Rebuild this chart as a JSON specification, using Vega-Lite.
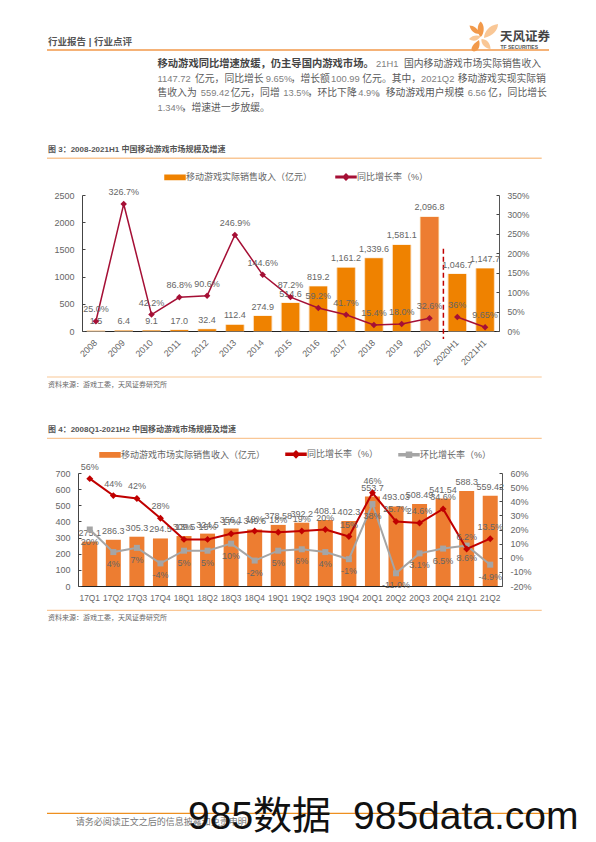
{
"$schema":"https://vega.github.io/schema/vega-lite/v6.json",
"padding":0,
"autosize":{"type":"pad"},
"background":"white",
"spacing":0,
"bounds":"flush",
"resolve":{"scale":{"color":"independent","shape":"independent"},"legend":{"color":"independent","shape":"independent"}},
"config":{"view":{"stroke":null},"concat":{"spacing":0},"font":"Liberation Sans, Noto Sans CJK SC","text":{"font":"Liberation Sans, Noto Sans CJK SC"},"axis":{"grid":false,"labelFont":"Liberation Sans, Noto Sans CJK SC"}},
"datasets":{
"head":[
{"group":"rule","tone":"strong","x":47,"x2":549,"y":50},
{"group":"rule","tone":"pale","x":47,"x2":541.7,"y":158.3},
{"group":"top","x":48,"y":41.7,"text":"行业报告 | 行业点评"},
{"group":"lead","x":157.5,"y":64,"text":"移动游戏同比增速放缓，仍主导国内游戏市场。"},
{"group":"latin","x":376,"y":64,"text":"21H1"},
{"group":"body","x":404,"y":64,"text":"国内移动游戏市场实际销售收入"},
{"group":"latin","x":157.5,"y":78.7,"text":"1147.72"},
{"group":"body","x":195,"y":78.7,"text":"亿元，同比增长"},
{"group":"latin","x":265.7,"y":78.7,"text":"9.65%"},
{"group":"body","x":290.7,"y":78.7,"text":"，增长额"},
{"group":"latin","x":331,"y":78.7,"text":"100.99"},
{"group":"body","x":362.3,"y":78.7,"text":"亿元。其中，"},
{"group":"latin","x":421,"y":78.7,"text":"2021Q2"},
{"group":"body","x":457.7,"y":78.7,"text":"移动游戏实现实际销"},
{"group":"body","x":157.5,"y":93,"text":"售收入为"},
{"group":"latin","x":200.7,"y":93,"text":"559.42"},
{"group":"body","x":230.7,"y":93,"text":"亿元，同增"},
{"group":"latin","x":283.3,"y":93,"text":"13.5%"},
{"group":"body","x":307.7,"y":93,"text":"，环比下降"},
{"group":"latin","x":358.3,"y":93,"text":"4.9%"},
{"group":"body","x":376,"y":93,"text":"。移动游戏用户规模"},
{"group":"latin","x":467.7,"y":93,"text":"6.56"},
{"group":"body","x":488,"y":93,"text":"亿，同比增长"},
{"group":"latin","x":157.5,"y":107.5,"text":"1.34%"},
{"group":"body","x":181.7,"y":107.5,"text":"，增速进一步放缓。"},
{"group":"caption","x":48,"y":150.3,"text":"图 3：2008-2021H1 中国移动游戏市场规模及增速"},
{"group":"brand","x":500,"y":36.5,"text":"天风证券"},
{"group":"brandsub","x":500.5,"y":46.7,"text":"TF SECURITIES"}
],
"petals":[
{"petal":"red top","x":480.7,"y":29.5},
{"petal":"orange big","x":491,"y":31},
{"petal":"grey top","x":474.5,"y":29.5},
{"petal":"orange small","x":475,"y":38},
{"petal":"grey low","x":475,"y":46},
{"petal":"red low","x":485.5,"y":44}
],
"mid":[
{"group":"rule","tone":"pale","x":47,"x2":541.7,"y":377},
{"group":"rule","tone":"pale","x":47,"x2":541.7,"y":438.3},
{"group":"source","x":48,"y":385,"text":"资料来源：游戏工委，天风证券研究所"},
{"group":"caption","x":48,"y":430.3,"text":"图 4：2008Q1-2021H2 中国移动游戏市场规模及增速"}
],
"foot":[
{"group":"rule","tone":"pale","x":47,"x2":541.7,"y":610.3},
{"group":"rule","tone":"strong","x":47,"x2":549,"y":813.3},
{"group":"source","x":48,"y":618,"text":"资料来源：游戏工委，天风证券研究所"},
{"group":"note","x":75.7,"y":821.5,"text":"请务必阅读正文之后的信息披露和免责申明"},
{"group":"note","x":539,"y":821.5,"text":"9"},
{"group":"mark","x":188,"y":829,"text":"985数据"},
{"group":"mark","x":353,"y":829,"text":"985data.com"}
],
"market":[
{"period":"2008","series":"移动游戏实际销售收入（亿元）","value":1.5,"label":"1.5"},
{"period":"2009","series":"移动游戏实际销售收入（亿元）","value":6.4,"label":"6.4"},
{"period":"2010","series":"移动游戏实际销售收入（亿元）","value":9.1,"label":"9.1"},
{"period":"2011","series":"移动游戏实际销售收入（亿元）","value":17.0,"label":"17.0"},
{"period":"2012","series":"移动游戏实际销售收入（亿元）","value":32.4,"label":"32.4"},
{"period":"2013","series":"移动游戏实际销售收入（亿元）","value":112.4,"label":"112.4"},
{"period":"2014","series":"移动游戏实际销售收入（亿元）","value":274.9,"label":"274.9"},
{"period":"2015","series":"移动游戏实际销售收入（亿元）","value":514.6,"label":"514.6"},
{"period":"2016","series":"移动游戏实际销售收入（亿元）","value":819.2,"label":"819.2"},
{"period":"2017","series":"移动游戏实际销售收入（亿元）","value":1161.2,"label":"1,161.2"},
{"period":"2018","series":"移动游戏实际销售收入（亿元）","value":1339.6,"label":"1,339.6"},
{"period":"2019","series":"移动游戏实际销售收入（亿元）","value":1581.1,"label":"1,581.1"},
{"period":"2020","series":"移动游戏实际销售收入（亿元）","value":2096.8,"label":"2,096.8"},
{"period":"2020H1","series":"移动游戏实际销售收入（亿元）","value":1046.7,"label":"1,046.7"},
{"period":"2021H1","series":"移动游戏实际销售收入（亿元）","value":1147.7,"label":"1,147.7"},
{"period":"2008","series":"同比增长率（%）","seg":"annual","value":25.0,"label":"25.0%"},
{"period":"2009","series":"同比增长率（%）","seg":"annual","value":326.7,"label":"326.7%"},
{"period":"2010","series":"同比增长率（%）","seg":"annual","value":42.2,"label":"42.2%"},
{"period":"2011","series":"同比增长率（%）","seg":"annual","value":86.8,"label":"86.8%"},
{"period":"2012","series":"同比增长率（%）","seg":"annual","value":90.6,"label":"90.6%"},
{"period":"2013","series":"同比增长率（%）","seg":"annual","value":246.9,"label":"246.9%"},
{"period":"2014","series":"同比增长率（%）","seg":"annual","value":144.6,"label":"144.6%"},
{"period":"2015","series":"同比增长率（%）","seg":"annual","value":87.2,"label":"87.2%"},
{"period":"2016","series":"同比增长率（%）","seg":"annual","value":59.2,"label":"59.2%"},
{"period":"2017","series":"同比增长率（%）","seg":"annual","value":41.7,"label":"41.7%"},
{"period":"2018","series":"同比增长率（%）","seg":"annual","value":15.4,"label":"15.4%"},
{"period":"2019","series":"同比增长率（%）","seg":"annual","value":18.0,"label":"18.0%"},
{"period":"2020","series":"同比增长率（%）","seg":"annual","value":32.6,"label":"32.6%"},
{"period":"2020H1","series":"同比增长率（%）","seg":"half","value":36,"label":"36%"},
{"period":"2021H1","series":"同比增长率（%）","seg":"half","value":9.65,"label":"9.65%"}
],
"divider":[{"period":"2020","value":1510,"value2":-146}],
"quarterly":[
{"period":"17Q1","series":"移动游戏市场实际销售收入（亿元）","value":275.1,"label":"275.1"},
{"period":"17Q2","series":"移动游戏市场实际销售收入（亿元）","value":286.3,"label":"286.3"},
{"period":"17Q3","series":"移动游戏市场实际销售收入（亿元）","value":305.3,"label":"305.3"},
{"period":"17Q4","series":"移动游戏市场实际销售收入（亿元）","value":294.5,"label":"294.5"},
{"period":"18Q1","series":"移动游戏市场实际销售收入（亿元）","value":309.5,"label":"309.5"},
{"period":"18Q2","series":"移动游戏市场实际销售收入（亿元）","value":324.5,"label":"324.5"},
{"period":"18Q3","series":"移动游戏市场实际销售收入（亿元）","value":356.1,"label":"356.1"},
{"period":"18Q4","series":"移动游戏市场实际销售收入（亿元）","value":349.6,"label":"349.6"},
{"period":"19Q1","series":"移动游戏市场实际销售收入（亿元）","value":378.58,"label":"378.58"},
{"period":"19Q2","series":"移动游戏市场实际销售收入（亿元）","value":392.2,"label":"392.2"},
{"period":"19Q3","series":"移动游戏市场实际销售收入（亿元）","value":408.1,"label":"408.1"},
{"period":"19Q4","series":"移动游戏市场实际销售收入（亿元）","value":402.3,"label":"402.3"},
{"period":"20Q1","series":"移动游戏市场实际销售收入（亿元）","value":553.7,"label":"553.7"},
{"period":"20Q2","series":"移动游戏市场实际销售收入（亿元）","value":493.03,"label":"493.03"},
{"period":"20Q3","series":"移动游戏市场实际销售收入（亿元）","value":508.49,"label":"508.49"},
{"period":"20Q4","series":"移动游戏市场实际销售收入（亿元）","value":541.54,"label":"541.54"},
{"period":"21Q1","series":"移动游戏市场实际销售收入（亿元）","value":588.3,"label":"588.3"},
{"period":"21Q2","series":"移动游戏市场实际销售收入（亿元）","value":559.42,"label":"559.42"},
{"period":"17Q1","series":"同比增长率（%）","value":56,"label":"56%"},
{"period":"17Q2","series":"同比增长率（%）","value":44,"label":"44%"},
{"period":"17Q3","series":"同比增长率（%）","value":42,"label":"42%"},
{"period":"17Q4","series":"同比增长率（%）","value":28,"label":"28%"},
{"period":"18Q1","series":"同比增长率（%）","value":13,"label":"13%"},
{"period":"18Q2","series":"同比增长率（%）","value":13,"label":"15%"},
{"period":"18Q3","series":"同比增长率（%）","value":17,"label":"17%"},
{"period":"18Q4","series":"同比增长率（%）","value":19,"label":"19%"},
{"period":"19Q1","series":"同比增长率（%）","value":18,"label":"18%"},
{"period":"19Q2","series":"同比增长率（%）","value":19,"label":"19%"},
{"period":"19Q3","series":"同比增长率（%）","value":20,"label":"20%"},
{"period":"19Q4","series":"同比增长率（%）","value":15,"label":"15%"},
{"period":"20Q1","series":"同比增长率（%）","value":46,"label":"46%"},
{"period":"20Q2","series":"同比增长率（%）","value":25.7,"label":"25.7%"},
{"period":"20Q3","series":"同比增长率（%）","value":24.6,"label":"24.6%"},
{"period":"20Q4","series":"同比增长率（%）","value":34.6,"label":"34.6%"},
{"period":"21Q1","series":"同比增长率（%）","value":6.2,"label":"6.2%"},
{"period":"21Q2","series":"同比增长率（%）","value":13.5,"label":"13.5%"},
{"period":"17Q1","series":"环比增长率（%）","value":20,"label":"20%"},
{"period":"17Q2","series":"环比增长率（%）","value":4,"label":"4%"},
{"period":"17Q3","series":"环比增长率（%）","value":7,"label":"7%"},
{"period":"17Q4","series":"环比增长率（%）","value":-4,"label":"-4%"},
{"period":"18Q1","series":"环比增长率（%）","value":5,"label":"5%"},
{"period":"18Q2","series":"环比增长率（%）","value":5,"label":"5%"},
{"period":"18Q3","series":"环比增长率（%）","value":10,"label":"10%"},
{"period":"18Q4","series":"环比增长率（%）","value":-2,"label":"-2%"},
{"period":"19Q1","series":"环比增长率（%）","value":5,"label":"5%"},
{"period":"19Q2","series":"环比增长率（%）","value":6,"label":"6%"},
{"period":"19Q3","series":"环比增长率（%）","value":4,"label":"4%"},
{"period":"19Q4","series":"环比增长率（%）","value":-1,"label":"-1%"},
{"period":"20Q1","series":"环比增长率（%）","value":38,"label":"38%"},
{"period":"20Q2","series":"环比增长率（%）","value":-11,"label":"-11.0%"},
{"period":"20Q3","series":"环比增长率（%）","value":3.1,"label":"3.1%"},
{"period":"20Q4","series":"环比增长率（%）","value":6.5,"label":"6.5%"},
{"period":"21Q1","series":"环比增长率（%）","value":8.6,"label":"8.6%"},
{"period":"21Q2","series":"环比增长率（%）","value":-4.9,"label":"-4.9%"}
]
},
"vconcat":[
{"width":596,"height":195,
 "data":{"name":"head"},
 "encoding":{"x":{"field":"x","type":"quantitative","scale":{"domain":[0,596]},"axis":null},"y":{"field":"y","type":"quantitative","scale":{"domain":[0,195],"reverse":true},"axis":null}},
 "layer":[
  {"transform":[{"filter":"datum.group==='rule'"}],"mark":{"type":"rule","strokeWidth":1.5},"encoding":{"x2":{"field":"x2"},"color":{"field":"tone","type":"nominal","scale":{"domain":["strong","pale"],"range":["#F2994A","#F9C796"]},"legend":null}}},
  {"transform":[{"filter":"datum.group==='top'"}],"mark":{"type":"text","align":"left","baseline":"middle","fontSize":9.5,"fontWeight":"bold","color":"#555555"},"encoding":{"text":{"field":"text"}}},
  {"transform":[{"filter":"datum.group==='lead'"}],"mark":{"type":"text","align":"left","baseline":"middle","fontSize":10.3,"fontWeight":"bold","color":"#444444"},"encoding":{"text":{"field":"text"}}},
  {"transform":[{"filter":"datum.group==='body'"}],"mark":{"type":"text","align":"left","baseline":"middle","fontSize":9.8,"color":"#5A5A5A"},"encoding":{"text":{"field":"text"}}},
  {"transform":[{"filter":"datum.group==='latin'"}],"mark":{"type":"text","align":"left","baseline":"middle","fontSize":9.4,"color":"#808080"},"encoding":{"text":{"field":"text"}}},
  {"transform":[{"filter":"datum.group==='caption'"}],"mark":{"type":"text","align":"left","baseline":"middle","fontSize":8,"fontWeight":"bold","color":"#555555"},"encoding":{"text":{"field":"text"}}},
  {"transform":[{"filter":"datum.group==='brand'"}],"mark":{"type":"text","align":"left","baseline":"middle","fontSize":12.5,"fontWeight":"bold","color":"#444444"},"encoding":{"text":{"field":"text"}}},
  {"transform":[{"filter":"datum.group==='brandsub'"}],"mark":{"type":"text","align":"left","baseline":"middle","fontSize":5,"fontWeight":"bold","color":"#555555"},"encoding":{"text":{"field":"text"}}},
  {"data":{"name":"petals"},"mark":{"type":"point","filled":true,"opacity":1,"size":400},
   "encoding":{
    "shape":{"field":"petal","type":"nominal","legend":null,"scale":{"domain":["red top","orange big","grey top","orange small","grey low","red low"],"range":["M0,-.8C.4,-.5 .4,.4 0,.75C-.4,.4 -.4,-.5 0,-.8Z","M-.7,.7C-.7,.1 -.2,-.6 .7,-.7C.7,-.1 .2,.5 -.7,.7Z","M-.5,-.4C-.1,-.4 .4,-.1 .5,.45C0,.45 -.4,.1 -.5,-.4Z","M-.6,.1C-.3,-.3 .2,-.3 .6,-.2C.3,.3 -.2,.4 -.6,.1Z","M.4,-.6C.55,-.1 .4,.5 -.1,.55C-.55,.5 -.4,-.1 .4,-.6Z","M-.4,-.5C.1,-.5 .5,-.1 .5,.5C0,.45 -.5,0 -.4,-.5Z"]}},
    "color":{"field":"petal","type":"nominal","legend":null,"scale":{"domain":["red top","orange big","grey top","orange small","grey low","red low"],"range":["#A8123A","#EE7F00","#4D4D4D","#EE7F00","#4D4D4D","#A8123A"]}}
   }}
 ]},
{"width":596,"height":136,
  "data":{"name":"market"},
  "encoding":{"x":{"field":"period","type":"nominal","title":null,"sort":null,"scale":{"domain":["2008","2009","2010","2011","2012","2013","2014","2015","2016","2017","2018","2019","2020","2020H1","2021H1"],"paddingInner":0,"paddingOuter":0,"range":[82,499]},"axis":{"labelAngle":-45,"labelFontSize":9,"labelColor":"#666666","ticks":false,"domainColor":"#222222","domainWidth":1.2,"labelPadding":7,"labelOffset":-3}}},
  "resolve":{"scale":{"y":"independent"}},
  "layer":[
   {"encoding":{"y":{"field":"value","type":"quantitative","title":null,"scale":{"domain":[0,2500]},"axis":{"offset":-82,"values":[0,500,1000,1500,2000,2500],"format":"d","labelFontSize":9,"labelColor":"#666666","domainColor":"#444444","tickColor":"#444444","tickSize":-3,"labelPadding":11}}},
    "layer":[
     {"transform":[{"filter":"datum.series==='移动游戏实际销售收入（亿元）'"}],"mark":{"type":"bar","size":18.5,"stroke":"#FAD9B4","strokeWidth":0.8,"color":"#FAD9B4"}},
     {"transform":[{"filter":"datum.series==='移动游戏实际销售收入（亿元）'"}],"mark":{"type":"bar","size":17.5},
      "encoding":{"color":{"field":"series","type":"nominal","scale":{"domain":["移动游戏实际销售收入（亿元）","同比增长率（%）"],"range":["#EF8200","#A50F35"]},
       "legend":{"title":null,"orient":"none","legendX":164,"legendY":-29,"direction":"horizontal","columns":2,"columnPadding":20,"padding":0,"labelFont":"Liberation Sans, Noto Sans CJK SC","labelFontSize":9,"labelColor":"#666666","labelLimit":300,"labelOffset":0,"symbolSize":400,
        "encode":{"symbols":{"update":{"shape":{"signal":"datum.value==='同比增长率（%）'?'M-1,-.07H1V.07H-1Z M-.3,0L0,-.3L.3,0L0,.3Z':'M-1,-.22H1V.22H-1Z'"},"fill":{"signal":"datum.value==='同比增长率（%）'?'#A50F35':'#EF8200'"},"stroke":{"value":"transparent"},"opacity":{"value":1}}}}}}}},
     {"transform":[{"filter":"datum.series==='移动游戏实际销售收入（亿元）' && datum.period==='2020'"}],"mark":{"type":"bar","size":17.5,"color":"#ED7D31"}},
     {"data":{"name":"divider"},"mark":{"type":"rule","strokeDash":[5,3],"strokeWidth":1.5,"color":"#C00000"},"encoding":{"x":{"field":"period","type":"nominal","bandPosition":1},"y2":{"field":"value2"}}},
     {"transform":[{"filter":"datum.series==='移动游戏实际销售收入（亿元）'"}],"mark":{"type":"text","baseline":"middle","dy":-9.5,"fontSize":9,"color":"#666666"},"encoding":{"text":{"field":"label"}}}
    ]},
   {"encoding":{"y":{"field":"value","type":"quantitative","title":null,"scale":{"domain":[0,350]},"axis":{"orient":"right","offset":-97,"values":[0,50,100,150,200,250,300,350],"labelExpr":"datum.value+'%'","labelFontSize":8.6,"labelColor":"#666666","domainColor":"#555555","tickColor":"#444444","tickSize":-3,"labelPadding":11}}},
    "layer":[
     {"transform":[{"filter":"datum.series==='同比增长率（%）'"}],"mark":{"type":"line","strokeWidth":1.5},"encoding":{"detail":{"field":"seg"},"color":{"field":"series","type":"nominal"}}},
     {"transform":[{"filter":"datum.series==='同比增长率（%）'"}],"mark":{"type":"point","shape":"diamond","filled":true,"opacity":1,"size":42},"encoding":{"color":{"field":"series","type":"nominal"}}},
     {"transform":[{"filter":"datum.series==='同比增长率（%）'"}],"mark":{"type":"text","baseline":"middle","dy":-12,"fontSize":9,"color":"#666666"},"encoding":{"text":{"field":"label"}}}
    ]}
  ]},
{"width":596,"height":142,
 "data":{"name":"mid"},
 "encoding":{"x":{"field":"x","type":"quantitative","scale":{"domain":[0,596]},"axis":null},"y":{"field":"y","type":"quantitative","scale":{"domain":[331,473],"reverse":true},"axis":null}},
 "layer":[
  {"transform":[{"filter":"datum.group==='rule'"}],"mark":{"type":"rule","strokeWidth":1.2,"color":"#F9C796"},"encoding":{"x2":{"field":"x2"}}},
  {"transform":[{"filter":"datum.group==='source'"}],"mark":{"type":"text","align":"left","baseline":"middle","fontSize":7,"color":"#666666"},"encoding":{"text":{"field":"text"}}},
  {"transform":[{"filter":"datum.group==='caption'"}],"mark":{"type":"text","align":"left","baseline":"middle","fontSize":8,"fontWeight":"bold","color":"#555555"},"encoding":{"text":{"field":"text"}}}
 ]},
{"width":596,"height":113,
  "data":{"name":"quarterly"},
  "encoding":{"x":{"field":"period","type":"nominal","title":null,"sort":null,"scale":{"paddingInner":0,"paddingOuter":0,"range":[78,502]},"axis":{"labelAngle":0,"labelFontSize":8.4,"labelColor":"#666666","ticks":false,"domainColor":"#222222","domainWidth":1.2,"labelPadding":7}}},
  "resolve":{"scale":{"y":"independent"}},
  "layer":[
   {"encoding":{"y":{"field":"value","type":"quantitative","title":null,"scale":{"domain":[0,700]},"axis":{"offset":-78,"values":[0,100,200,300,400,500,600,700],"labelFontSize":9,"labelColor":"#666666","domainColor":"#444444","tickColor":"#444444","tickSize":-3,"labelPadding":11}}},
    "transform":[{"filter":"datum.series==='移动游戏市场实际销售收入（亿元）'"}],
    "layer":[
     {"mark":{"type":"bar","size":15},
      "encoding":{"color":{"field":"series","type":"nominal","scale":{"domain":["移动游戏市场实际销售收入（亿元）","同比增长率（%）","环比增长率（%）"],"range":["#ED7D31","#C00000","#A5A5A5"]},
       "legend":{"title":null,"orient":"none","legendX":99,"legendY":-30,"direction":"horizontal","columns":3,"columnPadding":17,"padding":0,"labelFont":"Liberation Sans, Noto Sans CJK SC","labelFontSize":9,"labelColor":"#666666","labelLimit":300,"labelOffset":0,"symbolSize":400,
        "encode":{"symbols":{"update":{"shape":{"signal":"datum.value==='同比增长率（%）'?'M-1,-.1H1V.1H-1Z M-.33,0L0,-.33L.33,0L0,.33Z':datum.value==='环比增长率（%）'?'M-1,-.1H1V.1H-1Z M-.25,-.25H.25V.25H-.25Z':'M-1,-.22H1V.22H-1Z'"},"fill":{"signal":"datum.value==='同比增长率（%）'?'#C00000':datum.value==='环比增长率（%）'?'#A5A5A5':'#ED7D31'"},"stroke":{"value":"transparent"},"opacity":{"value":1}}}}}}}},
     {"mark":{"type":"text","baseline":"middle","dy":-9,"fontSize":9,"color":"#666666"},"encoding":{"text":{"field":"label"}}}
    ]},
   {"encoding":{"y":{"field":"value","type":"quantitative","title":null,"scale":{"domain":[-20,60]},"axis":{"orient":"right","offset":-94,"values":[-20,-10,0,10,20,30,40,50,60],"labelExpr":"datum.value+'%'","labelFontSize":9,"labelColor":"#666666","domainColor":"#555555","tickColor":"#444444","tickSize":-3,"labelPadding":11}}},
    "layer":[
     {"transform":[{"filter":"datum.series==='环比增长率（%）'"}],"mark":{"type":"line","strokeWidth":2},"encoding":{"color":{"field":"series","type":"nominal"}}},
     {"transform":[{"filter":"datum.series==='环比增长率（%）'"}],"mark":{"type":"point","shape":"square","filled":true,"opacity":1,"size":36},"encoding":{"color":{"field":"series","type":"nominal"}}},
     {"transform":[{"filter":"datum.series==='同比增长率（%）'"}],"mark":{"type":"line","strokeWidth":2},"encoding":{"color":{"field":"series","type":"nominal"}}},
     {"transform":[{"filter":"datum.series==='同比增长率（%）'"}],"mark":{"type":"point","shape":"diamond","filled":true,"opacity":1,"size":48},"encoding":{"color":{"field":"series","type":"nominal"}}},
     {"transform":[{"filter":"datum.series==='同比增长率（%）'"}],"mark":{"type":"text","baseline":"middle","dy":-12,"fontSize":9,"color":"#666666"},"encoding":{"text":{"field":"label"}}},
     {"transform":[{"filter":"datum.series==='环比增长率（%）'"}],"mark":{"type":"text","baseline":"middle","dy":12,"fontSize":9,"color":"#666666"},"encoding":{"text":{"field":"label"}}}
    ]}
  ]},
{"width":596,"height":256,
 "data":{"name":"foot"},
 "encoding":{"x":{"field":"x","type":"quantitative","scale":{"domain":[0,596]},"axis":null},"y":{"field":"y","type":"quantitative","scale":{"domain":[586,842],"reverse":true},"axis":null}},
 "layer":[
  {"transform":[{"filter":"datum.group==='rule'"}],"mark":{"type":"rule","strokeWidth":1.3},"encoding":{"x2":{"field":"x2"},"color":{"field":"tone","type":"nominal","scale":{"domain":["strong","pale"],"range":["#EE8F1F","#F9C796"]},"legend":null}}},
  {"transform":[{"filter":"datum.group==='source'"}],"mark":{"type":"text","align":"left","baseline":"middle","fontSize":7,"color":"#666666"},"encoding":{"text":{"field":"text"}}},
  {"transform":[{"filter":"datum.group==='note'"}],"mark":{"type":"text","align":"left","baseline":"middle","fontSize":9,"color":"#777777"},"encoding":{"text":{"field":"text"}}},
  {"transform":[{"filter":"datum.group==='mark'"}],"mark":{"type":"text","align":"left","baseline":"alphabetic","fontSize":39,"color":"#111111"},"encoding":{"text":{"field":"text"}}}
 ]}
]
}
